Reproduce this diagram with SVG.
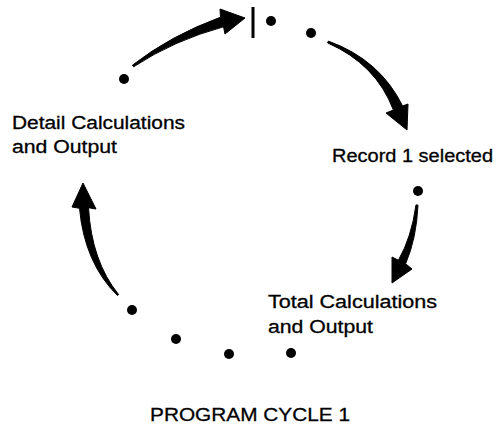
<svg xmlns="http://www.w3.org/2000/svg" width="497" height="430" viewBox="0 0 497 430">
<style>
.lbl{font-family:"Liberation Sans",Arial,sans-serif;font-size:18px;fill:#000;stroke:#000;stroke-width:0.3}
.dot{fill:#000}
.arr{fill:#000;stroke:#000;stroke-width:1;stroke-linejoin:round}
</style>
<rect width="497" height="430" fill="#fff"/>
<g id="connectors">
<path class="arr" d="M132.4,65.2 Q170.3,35.6 220.5,17.2 L220,9 L245,18 L225,34 L223.5,26.8 Q173.7,40.4 133.6,66.8 Z"/>
<path class="arr" d="M328.4,41.1 Q380,59.8 402.6,106 L408,104 L407,130 L386,113 L393.4,110 Q376,64.2 327.6,42.9 Z"/>
<path class="arr" d="M418,205.1 Q416.5,238.5 405.6,263.8 L412,269 L392,283 L392,257 L398.4,260.2 Q411.5,237.5 416,204.9 Z"/>
<path class="arr" d="M118.6,294.5 Q91.5,261 88.5,207.7 L96,209 L83,183 L72,207 L79.5,208.3 Q84.5,263 117.4,295.5 Z"/>
</g>
<g id="start-bar"><rect x="251.5" y="7" width="3" height="31" fill="#000"/></g>
<g id="dots">
<circle class="dot" cx="271" cy="21" r="5"/>
<circle class="dot" cx="311" cy="33" r="5"/>
<circle class="dot" cx="124" cy="79" r="5"/>
<circle class="dot" cx="418" cy="191" r="5"/>
<circle class="dot" cx="291" cy="353" r="5"/>
<circle class="dot" cx="229" cy="354" r="5"/>
<circle class="dot" cx="176" cy="339" r="5"/>
<circle class="dot" cx="132" cy="310" r="5"/>
</g>
<g id="record-selected"><text class="lbl" x="332" y="162" textLength="161" lengthAdjust="spacingAndGlyphs">Record 1 selected</text></g>
<g id="total-calc">
<text class="lbl" x="268" y="308" textLength="169" lengthAdjust="spacingAndGlyphs">Total Calculations</text>
<text class="lbl" x="268" y="333" textLength="105" lengthAdjust="spacingAndGlyphs">and Output</text>
</g>
<g id="detail-calc">
<text class="lbl" x="12" y="129" textLength="173" lengthAdjust="spacingAndGlyphs">Detail Calculations</text>
<text class="lbl" x="12" y="153" textLength="105" lengthAdjust="spacingAndGlyphs">and Output</text>
</g>
<g id="title"><text class="lbl" x="150" y="421" style="font-size:19px" textLength="200" lengthAdjust="spacingAndGlyphs">PROGRAM CYCLE 1</text></g>
</svg>
